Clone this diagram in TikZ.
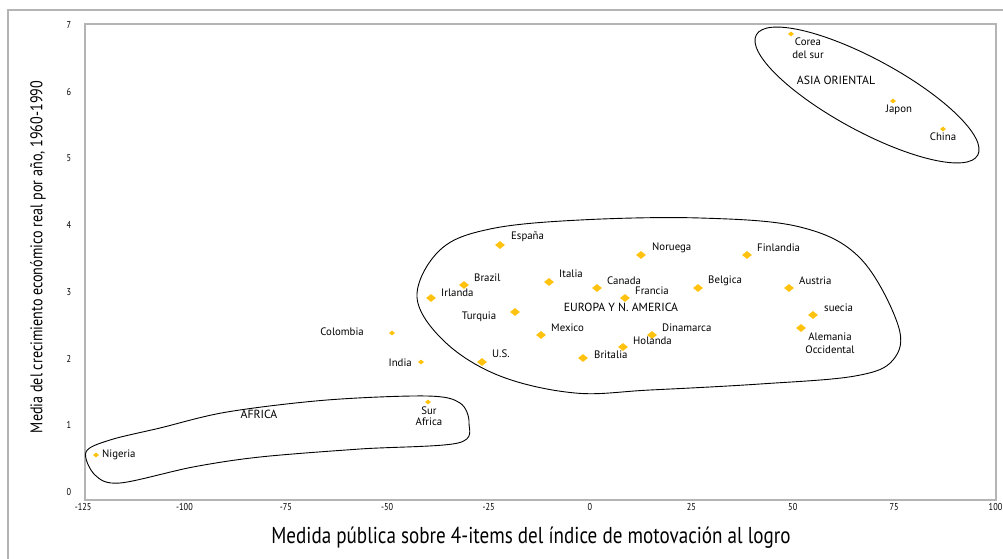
\documentclass[tikz,border=0pt]{standalone}
\usepackage{fontspec}
\setmainfont{PT Sans}
\newfontfamily\condfont[FakeStretch=0.83]{PT Sans}
\usetikzlibrary{shapes.geometric}
\definecolor{mk}{HTML}{FFC20E}
\definecolor{framegray}{HTML}{B4B4B4}
\begin{document}
\begin{tikzpicture}[x=1pt,y=-1pt,
  big/.style={diamond,fill=mk,inner sep=0pt,minimum width=10pt,minimum height=8pt},
  small/.style={diamond,fill=mk,inner sep=0pt,minimum width=6pt,minimum height=5pt},
  lbl/.style={font=\fontsize{10.8}{12}\selectfont,inner sep=0pt,text=black},
  grp/.style={font=\fontsize{11.8}{13}\selectfont,inner sep=0pt,text=black},
  tick/.style={font=\condfont\fontsize{10}{11}\selectfont,inner sep=0pt,text=black},
  axtitle/.style={font=\condfont\fontsize{23}{26}\selectfont,inner sep=0pt,text=black},
  blob/.style={draw=black,line width=0.9pt}]
\useasboundingbox (0,0) rectangle (1003,559);
% frames
\draw[framegray,line width=1.5pt] (1003,10) -- (8,10) -- (8,559);
\draw[framegray,line width=1.5pt] (85,24) rectangle (996,500);
% y ticks
\foreach \v in {0,...,7} {
  \node[tick] (yt\v) at (69,{492-66.7*\v}) {\v};
}
% x ticks
\foreach \v in {-125,-100,-75,-50,-25,0,25,50,75,100} {
  \node[tick] (xt\v) at ({590+4.055*\v},507) {\v};
}
% axis titles
\node[axtitle] (xtitle) at (531,538) {Medida pública sobre 4-items del índice de motovación al logro};
\node[axtitle,font=\condfont\fontsize{17}{20}\selectfont,rotate=90] (ytitle) at (38,257) {Media del crecimiento económico real por año, 1960-1990};
% groups
\draw[blob,rotate around={-28.5:(867,95)}] (867,95) ellipse [x radius=126,y radius=36];
\draw[blob] plot[smooth cycle,tension=0.6] coordinates {(417,297) (440,250) (490,229) (580,220) (700,218) (800,227) (860,258) (898,325) (893,360) (855,376) (760,384) (650,390) (575,393) (500,376) (445,342)};
\draw[blob] plot[smooth cycle,tension=0.55] coordinates {(86,452) (110,440) (160,428) (227,412) (327,400) (427,396) (460,403) (469,423) (458,443) (360,449) (260,457) (193,467) (120,483) (95,475)};
\node[grp] (asia) at (836,80) {ASIA ORIENTAL};
\node[grp] (europa) at (621,307) {EUROPA Y N. AMERICA};
\node[grp] (africa) at (259,414) {AFRICA};
% Asia
\node[small] (corea) at (791,34) {};
\node[lbl,align=center] (lcorea) at (808,48) {Corea\\[1pt]del sur};
\node[small] (japon) at (893,101) {};
\node[lbl] (ljapon) at (899,110) {Japon};
\node[small] (china) at (943,129) {};
\node[lbl] (lchina) at (943,137) {China};
% Europe & N. America
\node[big] (espana) at (500,245) {};
\node[lbl,anchor=west] (lespana) at (511,237) {España};
\node[big] (noruega) at (641,255) {};
\node[lbl,anchor=west] (lnoruega) at (652,248) {Noruega};
\node[big] (finlandia) at (747,255) {};
\node[lbl,anchor=west] (lfinlandia) at (757,248) {Finlandia};
\node[big] (brazil) at (464,285) {};
\node[lbl,anchor=west] (lbrazil) at (474,278) {Brazil};
\node[big] (irlanda) at (431,298) {};
\node[lbl,anchor=west] (lirlanda) at (441,293) {Irlanda};
\node[big] (italia) at (549,282) {};
\node[lbl,anchor=west] (litalia) at (559,274) {Italia};
\node[big] (canada) at (597,288) {};
\node[lbl,anchor=west] (lcanada) at (607,281) {Canada};
\node[big] (francia) at (625,298) {};
\node[lbl,anchor=west] (lfrancia) at (635,291) {Francia};
\node[big] (belgica) at (698,288) {};
\node[lbl,anchor=west] (lbelgica) at (708,281) {Belgica};
\node[big] (austria) at (789,288) {};
\node[lbl,anchor=west] (laustria) at (799,281) {Austria};
\node[big] (turquia) at (515,312) {};
\node[lbl] (lturquia) at (479,317) {Turquia};
\node[big] (suecia) at (813,315) {};
\node[lbl,anchor=west] (lsuecia) at (824,308) {suecia};
\node[big] (alemania) at (801,328) {};
\node[lbl,align=center] (lalemania) at (830,343) {Alemania\\[1pt]Occidental};
\node[big] (mexico) at (541,335) {};
\node[lbl,anchor=west] (lmexico) at (551,328) {Mexico};
\node[big] (dinamarca) at (652,335) {};
\node[lbl,anchor=west] (ldinamarca) at (662,328) {Dinamarca};
\node[big] (holanda) at (623,347) {};
\node[lbl,anchor=west] (lholanda) at (633,341) {Holanda};
\node[big] (us) at (482,362) {};
\node[lbl,anchor=west] (lus) at (492,354) {U.S.};
\node[big] (britalia) at (583,358) {};
\node[lbl,anchor=west] (lbritalia) at (594,355) {Britalia};
% others
\node[small] (colombia) at (392,333) {};
\node[lbl,anchor=east] (lcolombia) at (364,332) {Colombia};
\node[small] (india) at (421,362) {};
\node[lbl,anchor=east] (lindia) at (412,363) {India};
\node[small] (nigeria) at (96,455) {};
\node[lbl,anchor=west] (lnigeria) at (102,455) {Nigeria};
\node[small] (surafrica) at (428,402) {};
\node[lbl,align=center] (lsurafrica) at (429,416) {Sur\\[-1pt]Africa};
\end{tikzpicture}
\end{document}
